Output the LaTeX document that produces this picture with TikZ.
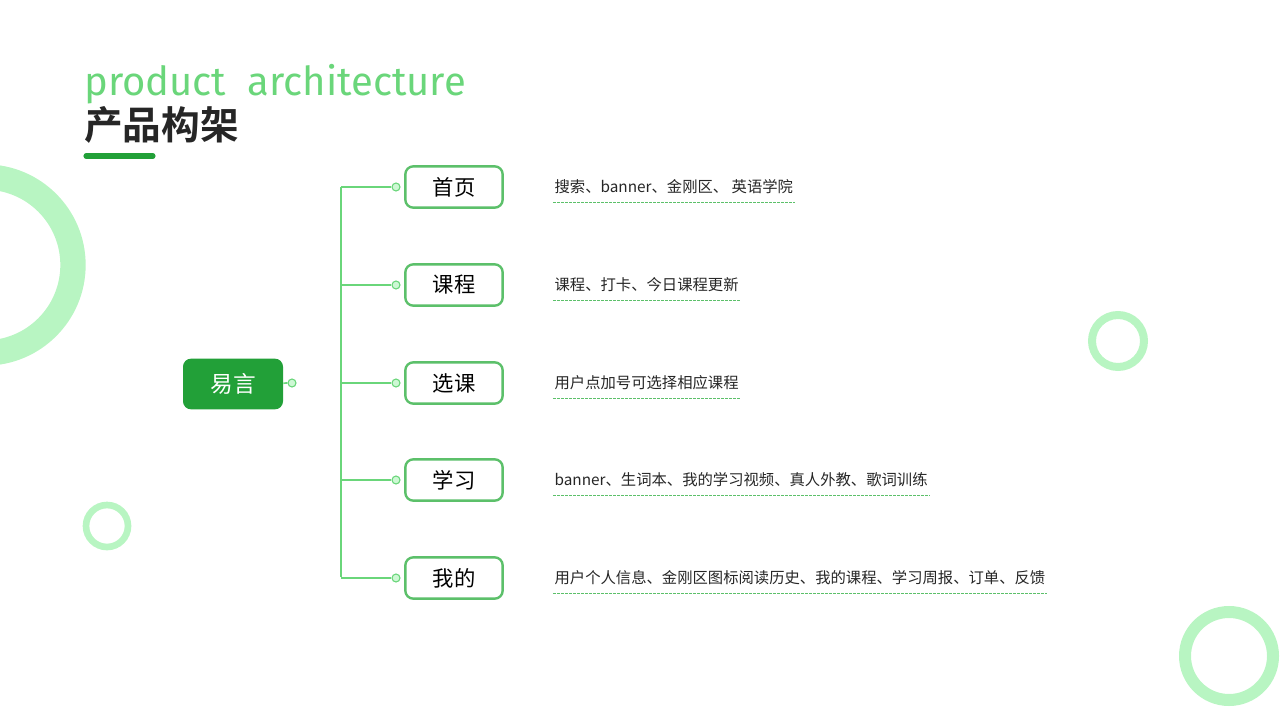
\documentclass[tikz,border=0pt]{standalone}
\usepackage{fontspec}
\setmainfont{Noto Sans CJK SC}
\newfontfamily\cjkbold{Noto Sans CJK SC Bold}
\newfontfamily\latinfont{Fira Sans}
\definecolor{ringgreen}{HTML}{B8F5C2}
\definecolor{linegreen}{HTML}{6AD67A}
\definecolor{boxgreen}{HTML}{5CC06A}
\definecolor{rootgreen}{HTML}{22A038}
\definecolor{titledark}{HTML}{262626}
\tikzstyle{ring}=[draw=ringgreen]
\tikzstyle{branch}=[draw,linegreen,line width=1.3pt]
\tikzstyle{tab}=[draw=boxgreen,line width=1.8pt,rounded corners=6pt,fill=white,minimum width=73pt,minimum height=31pt,inner sep=0pt,font=\fontsize{16}{16}\selectfont]
\tikzstyle{dot}=[circle,draw=linegreen,fill=ringgreen!70,line width=0.8pt,minimum size=6pt,inner sep=0pt]
\tikzstyle{desc}=[anchor=west,inner sep=1pt,font=\fontsize{11.5}{12}\selectfont,text=black!85]
\begin{document}
\begin{tikzpicture}[x=0.75pt,y=-0.75pt]
    \useasboundingbox (0,0) rectangle (1280,720);
    % decoration rings
    \draw[ring,line width=19pt] (-15,265) circle (88);
    \draw[ring,line width=6pt] (1118,341) circle (26);
    \draw[ring,line width=5pt] (107,526) circle (21);
    \draw[ring,line width=9pt] (1229,656) circle (44);

    % title
    \node[anchor=south west,inner sep=0pt,text=linegreen,font=\latinfont\fontsize{30}{30}\selectfont] (entitle) at (84,104) {product\ \ architecture};
    \node[anchor=north west,inner sep=0pt,text=titledark,font=\cjkbold\fontsize{29}{29}\selectfont] (title) at (84,106) {产品构架};
    \draw[rootgreen,line width=3.8pt,line cap=round] (86,156) -- (153,156);

    % root
    \node[fill=rootgreen,rounded corners=6pt,minimum width=75pt,minimum height=38pt,text=white,font=\fontsize{17}{17}\selectfont] (root) at (233,384) {易言};
    \node[dot] (rdot) at (292,383) {};
    \coordinate (trunktop) at (341,187);
    \coordinate (trunkbot) at (341,577);
    \path[branch] (root) -- (rdot);
    \path[branch] (trunktop) -- (trunkbot);

    \foreach \y/\name/\label/\text in {187/home/首页/{搜索、banner、金刚区、 英语学院},
        285/course/课程/{课程、打卡、今日课程更新},
        383/pick/选课/{用户点加号可选择相应课程},
        480/study/学习/{banner、生词本、我的学习视频、真人外教、歌词训练},
        578/mine/我的/{用户个人信息、金刚区图标阅读历史、我的课程、学习周报、订单、反馈}}
    {
        \node[tab] (\name) at (454,\y) {\label};
        \node[dot] (\name dot) at (396,\y) {};
        \coordinate (\name joint) at (341,\y);
        \path[branch] (\name joint) -- (\name dot);
        \node[desc] (\name desc) at (553,\y) {\text};
        \draw[boxgreen,dashed,dash pattern=on 2pt off 1pt,line width=0.8pt] ([yshift=-5pt]\name desc.south west) -- ([yshift=-5pt]\name desc.south east);
    }
\end{tikzpicture}
\end{document}
